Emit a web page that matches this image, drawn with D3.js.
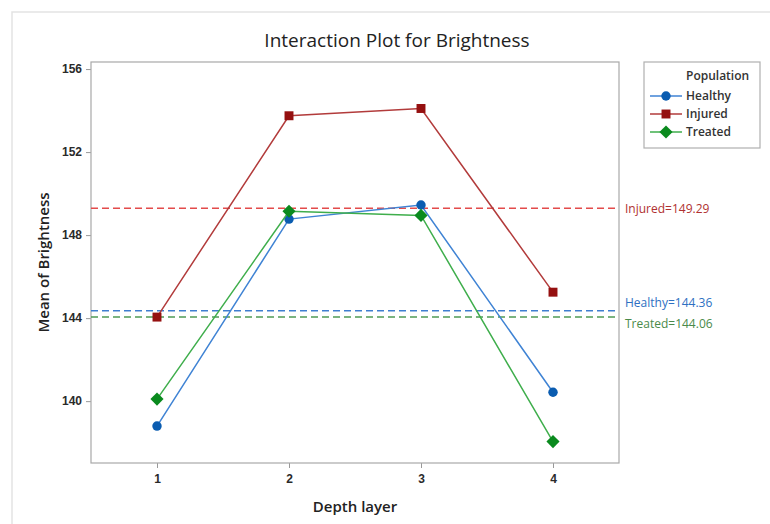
<!DOCTYPE html>
<html>
<head>
<meta charset="utf-8">
<script src="https://cdn.jsdelivr.net/npm/d3@7"></script>
<style>
  body { margin: 0; background: #fff; }
  svg { font-family: "Open Sans", "Noto Sans", sans-serif; }
</style>
</head>
<body>
<div id="chart"></div>
<script>
// data
var layers = [1, 2, 3, 4]
var populations = ["Healthy", "Injured", "Treated"]
var healthy = [138.8, 148.77, 149.45, 140.43]
var injured = [144.05, 153.75, 154.1, 145.25]
var treated = [140.1, 149.15, 148.95, 138.05]
var means = [144.36, 149.29, 144.06]
var yTicks = [140, 144, 148, 152, 156]

var lineColors = ["#3f83d4", "#b23b3b", "#3fae4c"]
var markColors = ["#0a5cb0", "#951010", "#0a8a1e"]
var refColors = ["#3f7ed0", "#e34b4b", "#4f9a55"]
var refText = ["#2e70c2", "#b03030", "#4a8a4a"]
var symbols = [d3.symbolCircle, d3.symbolSquare, d3.symbolDiamond2]
var symSizes = [70, 80, 110]

var W = 770, H = 524
var margin = {top: 62, right: 151, bottom: 61, left: 91}
var width = W - margin.left - margin.right,
    height = H - margin.top - margin.bottom

var svg = d3.select("#chart").append("svg")
  .attr("width", W).attr("height", H)

// faint outer frame
svg.append("path")
  .attr("d", "M12," + H + "V12H" + W)
  .attr("fill", "none").attr("stroke", "#e3e3e3").attr("stroke-width", 1.5)

svg.append("text")
  .attr("x", 397).attr("y", 47)
  .attr("text-anchor", "middle")
  .attr("font-size", 19).attr("fill", "#222")
  .text("Interaction Plot for Brightness")

var g = svg.append("g")
  .attr("transform", "translate(" + margin.left + "," + margin.top + ")")

var x = d3.scaleLinear().domain([0.5, 4.5]).range([0, width])
var y = d3.scaleLinear().domain([137.02, 156.34]).range([height, 0])

g.append("g")
  .attr("transform", "translate(0," + height + ")")
  .call(d3.axisBottom(x).tickValues(layers).tickFormat(d3.format("d")).tickSize(5).tickPadding(6))
  .call(function(a) {
    a.select(".domain").remove()
    a.selectAll("line").attr("stroke", "#999")
    a.selectAll("text").attr("font-size", 12).attr("fill", "#2a2a2a").attr("font-weight", 600)
  })

g.append("g")
  .call(d3.axisLeft(y).tickValues(yTicks).tickSize(5).tickPadding(4))
  .call(function(a) {
    a.select(".domain").remove()
    a.selectAll("line").attr("stroke", "#999")
    a.selectAll("text").attr("font-size", 12).attr("fill", "#2a2a2a").attr("font-weight", 600)
  })

g.append("rect")
  .attr("width", width).attr("height", height)
  .attr("fill", "none").attr("stroke", "#a8a8a8").attr("stroke-width", 1.2)

// reference lines for each population mean
populations.forEach(function(p, i) {
  g.append("line")
    .attr("x1", 0).attr("x2", width)
    .attr("y1", y(means[i])).attr("y2", y(means[i]))
    .attr("stroke", refColors[i]).attr("stroke-width", 1.5)
    .attr("stroke-dasharray", "7,4")
})
var labelDy = [-8, 0, 7]
populations.forEach(function(p, i) {
  g.append("text")
    .attr("x", width + 6).attr("y", y(means[i]) + labelDy[i])
    .attr("dy", "0.35em")
    .attr("font-size", 12).attr("fill", refText[i])
    .text(p + "=" + means[i].toFixed(2))
})

var series = [healthy, injured, treated]
series.forEach(function(vals, i) {
  var data = layers.map(function(l, j) { return {layer: l, value: vals[j]} })
  g.append("path")
    .datum(data)
    .attr("fill", "none")
    .attr("stroke", lineColors[i])
    .attr("stroke-width", 1.5)
    .attr("d", d3.line()
      .x(function(d) { return x(d.layer) })
      .y(function(d) { return y(d.value) }))
  g.selectAll(".m" + i)
    .data(data).enter()
    .append("path")
    .attr("transform", function(d) { return "translate(" + x(d.layer) + "," + y(d.value) + ")" })
    .attr("d", d3.symbol().type(symbols[i]).size(symSizes[i]))
    .attr("fill", markColors[i])
})

svg.append("text")
  .attr("x", margin.left + width / 2).attr("y", 512)
  .attr("text-anchor", "middle").attr("font-size", 15).attr("font-weight", 600).attr("fill", "#222")
  .text("Depth layer")

svg.append("text")
  .attr("transform", "translate(49," + (margin.top + height / 2) + ") rotate(-90)")
  .attr("text-anchor", "middle").attr("font-size", 15).attr("font-weight", 600).attr("fill", "#222")
  .text("Mean of Brightness")

// legend
var lg = svg.append("g").attr("transform", "translate(644,62)")
lg.append("rect").attr("width", 116).attr("height", 86)
  .attr("fill", "#fff").attr("stroke", "#b0b0b0").attr("stroke-width", 1.2)
lg.append("text").attr("x", 42).attr("y", 18)
  .attr("font-size", 12).attr("font-weight", 600).attr("fill", "#333").text("Population")
populations.forEach(function(p, i) {
  var yy = 34 + i * 18
  lg.append("line").attr("x1", 6).attr("x2", 38).attr("y1", yy).attr("y2", yy)
    .attr("stroke", lineColors[i]).attr("stroke-width", 1.5)
  lg.append("path").attr("transform", "translate(22," + yy + ")")
    .attr("d", d3.symbol().type(symbols[i]).size(symSizes[i]))
    .attr("fill", markColors[i])
  lg.append("text").attr("x", 42).attr("y", yy).attr("dy", "0.35em")
    .attr("font-size", 12).attr("font-weight", 600).attr("fill", "#333").text(p)
})
</script>
</body>
</html>
